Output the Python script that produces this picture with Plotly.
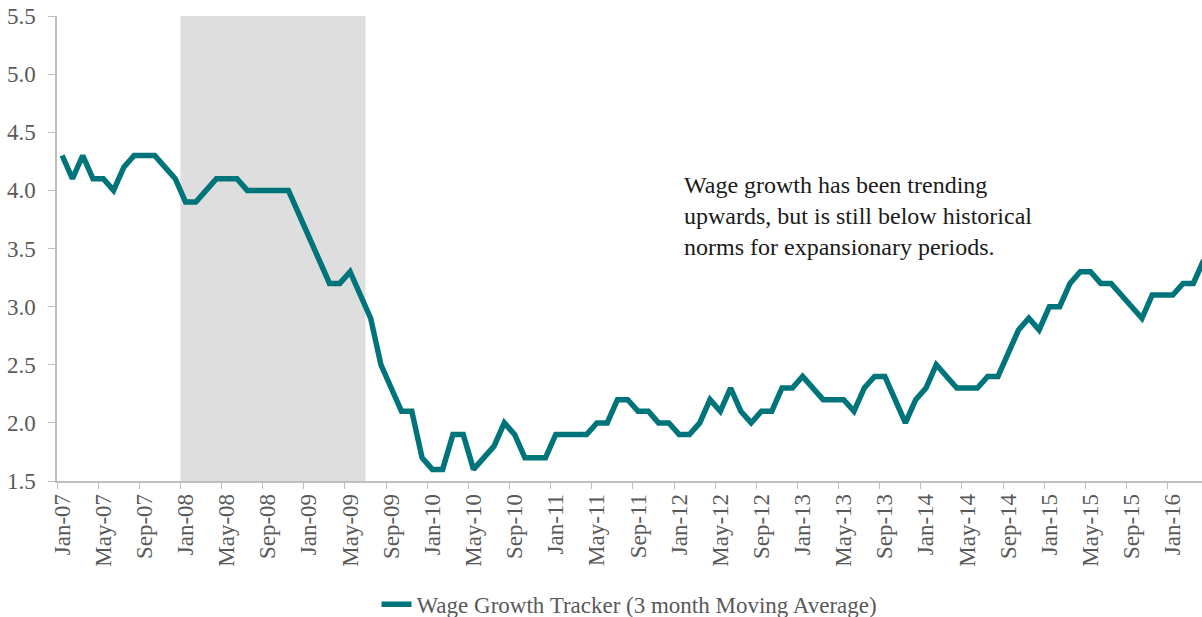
import pandas as pd
import plotly.graph_objects as go

# Monthly categories Jan-07 .. Apr-16
months = pd.date_range("2007-01-01", "2016-04-01", freq="MS")
categories = [d.strftime("%b-%y") for d in months]

wage_growth = [
    4.3, 4.1, 4.3, 4.1, 4.1, 4.0, 4.2, 4.3, 4.3, 4.3, 4.2, 4.1,
    3.9, 3.9, 4.0, 4.1, 4.1, 4.1, 4.0, 4.0, 4.0, 4.0, 4.0, 3.8,
    3.6, 3.4, 3.2, 3.2, 3.3, 3.1, 2.9, 2.5, 2.3, 2.1, 2.1, 1.7,
    1.6, 1.6, 1.9, 1.9, 1.6, 1.7, 1.8, 2.0, 1.9, 1.7, 1.7, 1.7,
    1.9, 1.9, 1.9, 1.9, 2.0, 2.0, 2.2, 2.2, 2.1, 2.1, 2.0, 2.0,
    1.9, 1.9, 2.0, 2.2, 2.1, 2.3, 2.1, 2.0, 2.1, 2.1, 2.3, 2.3,
    2.4, 2.3, 2.2, 2.2, 2.2, 2.1, 2.3, 2.4, 2.4, 2.2, 2.0, 2.2,
    2.3, 2.5, 2.4, 2.3, 2.3, 2.3, 2.4, 2.4, 2.6, 2.8, 2.9, 2.8,
    3.0, 3.0, 3.2, 3.3, 3.3, 3.2, 3.2, 3.1, 3.0, 2.9, 3.1, 3.1,
    3.1, 3.2, 3.2, 3.4,
]

recession_start = "Jan-08"
recession_end = "Jun-09"
series_name = "Wage Growth Tracker (3 month Moving Average)"
note = ("Wage growth has been trending<br>upwards, but is still below historical"
        "<br>norms for expansionary periods.")

FONT = "Liberation Serif"
TEAL = "#00747B"
GRAY_TXT = "#595959"
AXIS = "#BFBFBF"

fig = go.Figure()
fig.add_trace(go.Scatter(
    x=categories, y=wage_growth, mode="lines", name=series_name,
    line=dict(color=TEAL, width=5.5),
))

i0 = categories.index(recession_start)
i1 = categories.index(recession_end)
fig.add_shape(type="rect", xref="x", yref="paper",
              x0=i0 - 0.5, x1=i1 + 0.5, y0=0, y1=1,
              fillcolor="#DEDEDE", line=dict(width=0), layer="below")

fig.add_annotation(text=note, xref="paper", yref="paper", x=0.546, y=0.668,
                   xanchor="left", yanchor="top", align="left", showarrow=False,
                   font=dict(family=FONT, size=24, color="#1A1A1A"))

fig.update_layout(
    width=1202, height=617,
    margin=dict(l=57, r=0, t=16, b=136, autoexpand=False),
    paper_bgcolor="white", plot_bgcolor="white",
    font=dict(family=FONT, color=GRAY_TXT),
    showlegend=True,
    legend=dict(orientation="h", x=0.5, xanchor="center", y=-0.265, yanchor="middle",
                font=dict(family=FONT, size=23, color=GRAY_TXT)),
    xaxis=dict(type="category", range=[-0.5, 110.84], tickmode="linear", tick0=0, dtick=4,
               tickangle=-90, tickson="boundaries", ticks="outside", ticklen=6,
               tickcolor=AXIS, showline=True, linecolor=AXIS, linewidth=1.5,
               showgrid=False, ticklabelstandoff=2, automargin=False,
               tickfont=dict(family=FONT, size=23, color=GRAY_TXT)),
    yaxis=dict(range=[1.5, 5.5], dtick=0.5, tickformat=".1f", ticks="outside", ticklen=7,
               tickcolor=AXIS, showline=True, linecolor=AXIS, linewidth=1.5,
               showgrid=False, zeroline=False, ticklabelstandoff=8, automargin=False,
               tickfont=dict(family=FONT, size=23, color=GRAY_TXT)),
)

fig.write_html("out.html")
